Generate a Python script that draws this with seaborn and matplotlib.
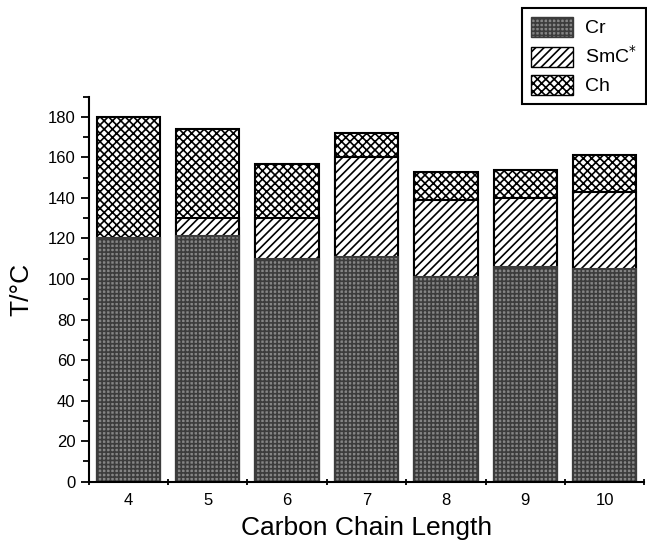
import pandas as pd
import matplotlib.pyplot as plt
import matplotlib.patches as mpatches
import seaborn as sns

sns.set_style('ticks')
plt.rcParams['font.family'] = ['Liberation Sans', 'DejaVu Sans']
plt.rcParams['hatch.linewidth'] = 1.2
plt.rcParams['text.color'] = 'black'
plt.rcParams['axes.labelcolor'] = 'black'
plt.rcParams['xtick.color'] = 'black'
plt.rcParams['ytick.color'] = 'black'

# Data (transition temperatures)
chain = ['4', '5', '6', '7', '8', '9', '10']
cr = [120, 121, 110, 111, 101, 106, 105]
smc_top = [120, 130, 130, 160, 139, 140, 143]
ch_top = [180, 174, 157, 172, 153, 154, 161]

df = pd.DataFrame({'chain': chain, 'Cr': cr, 'SmC': smc_top, 'Ch': ch_top})

CR_FACE = '#858585'
CR_EDGE = '#3c3c3c'

fig = plt.figure(figsize=(6.47, 5.43), dpi=100)
ax = fig.add_axes([0.137, 0.113, 0.859, 0.709])

# layered bars: tallest first, each one covers the part below
sns.barplot(data=df, x='chain', y='Ch', order=chain, color='white', edgecolor='black',
            hatch='xxxx', linewidth=1.5, width=0.8, ax=ax, saturation=1)
sns.barplot(data=df, x='chain', y='SmC', order=chain, color='white', edgecolor='black',
            hatch='////', linewidth=1.5, width=0.8, ax=ax, saturation=1)
sns.barplot(data=df, x='chain', y='Cr', order=chain, color=CR_FACE, edgecolor=CR_EDGE,
            hatch='++++', linewidth=1.5, width=0.8, ax=ax, saturation=1)

ax.set_xlim(-0.5, 6.5)
ax.set_ylim(0, 190)
ax.set_yticks(range(0, 181, 20))
ax.set_yticks(range(10, 191, 20), minor=True)
ax.set_xticks(range(7))
ax.set_xticklabels(chain)
ax.set_xticks([i - 0.5 for i in range(8)], minor=True)
ax.tick_params(axis='x', which='major', length=0, pad=8, labelsize=12)
ax.tick_params(axis='x', which='minor', length=5, width=1.3, direction='inout')
ax.tick_params(axis='y', which='major', length=6, width=1.3, labelsize=12)
ax.tick_params(axis='y', which='minor', length=4, width=1.3)
for s in ['left', 'bottom']:
    ax.spines[s].set_linewidth(1.5)
    ax.spines[s].set_color('black')
sns.despine(ax=ax)

ax.set_xlabel('Carbon Chain Length', fontsize=19, labelpad=6)
ax.set_ylabel('T/°C', fontsize=19, labelpad=10)

handles = [
    mpatches.Patch(facecolor=CR_FACE, edgecolor=CR_EDGE, hatch='++++', label='Cr'),
    mpatches.Patch(facecolor='white', edgecolor='black', hatch='////', label='SmC$^{*}$'),
    mpatches.Patch(facecolor='white', edgecolor='black', hatch='xxxx', label='Ch'),
]
leg = fig.legend(handles=handles, loc='upper right', bbox_to_anchor=(0.998, 0.985),
                 fontsize=14, frameon=True, fancybox=False, edgecolor='black',
                 framealpha=1, handlelength=2.2, handleheight=1.2, borderpad=0.45,
                 handletextpad=0.6, labelspacing=0.4, borderaxespad=0)
leg.get_frame().set_linewidth(1.5)

fig.savefig('out.png', dpi=100)
